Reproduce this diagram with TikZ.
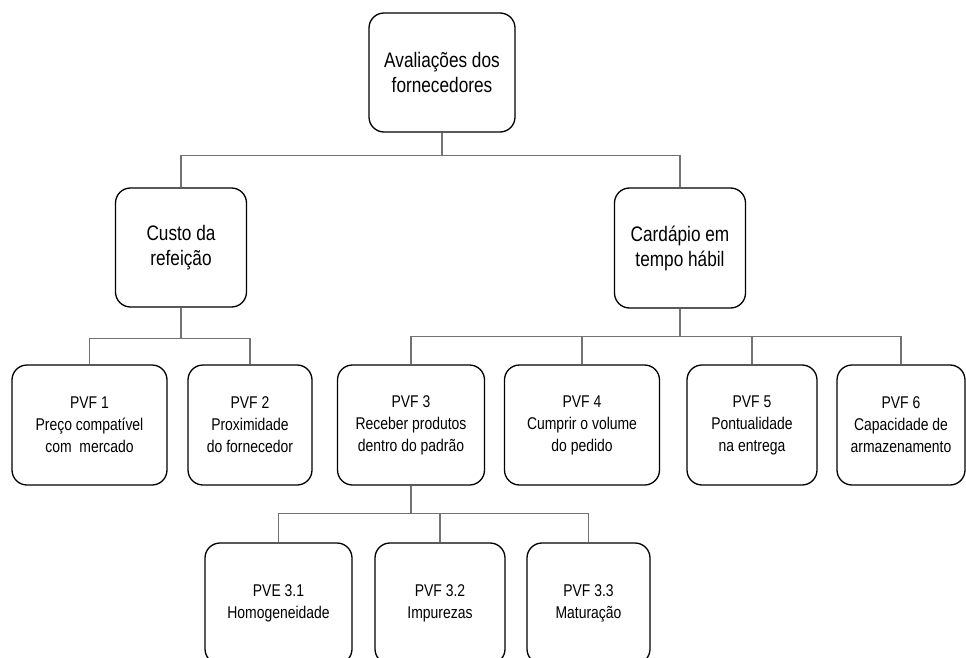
\documentclass[tikz,border=0pt]{standalone}
\usepackage{fontspec}
\setmainfont[FakeStretch=0.82]{Liberation Sans}
\usetikzlibrary{calc}

\begin{document}
\begin{tikzpicture}[x=1pt, y=-1pt,
    box/.style={draw=black, line width=1.3pt, rounded corners=15pt, align=center, inner sep=0pt},
    bigbox/.style={box, font=\fontsize{21}{25}\selectfont},
    smallbox/.style={box, font=\fontsize{17}{22}\selectfont},
    link/.style={draw=black!55, line width=1.1pt}]
    \useasboundingbox (0,0) rectangle (966,658);

    % upper levels
    \node[bigbox, minimum width=146pt, minimum height=119pt] (aval) at (442,72.5) {Avaliações dos\\fornecedores};
    \node[bigbox, minimum width=131pt, minimum height=119pt] (custo) at (181,247.5) {Custo da\\refeição};
    \node[bigbox, minimum width=131pt, minimum height=120pt] (card) at (680,248) {Cardápio em\\tempo hábil};

    % criteria
    \foreach \name/\x/\w/\txt in {p1/89.5/155/{PVF 1\\Preço compatível\\com \ mercado},
                                  p2/250/124/{PVF 2\\Proximidade\\do fornecedor},
                                  p3/411/147/{PVF 3\\Receber produtos\\dentro do padrão},
                                  p4/582/155/{PVF 4\\Cumprir o volume\\do pedido},
                                  p5/752/130/{PVF 5\\Pontualidade\\na entrega},
                                  p6/901/128/{PVF 6\\Capacidade de\\armazenamento}} {
        \node[smallbox, minimum width=\w pt, minimum height=120pt] (\name) at (\x,425) {\txt};
    }

    % sub-criteria of PVF 3
    \foreach \name/\x/\w/\txt in {q1/278.5/147/{PVE 3.1\\Homogeneidade},
                                  q2/440/130/{PVF 3.2\\Impurezas},
                                  q3/588.5/123/{PVF 3.3\\Maturação}} {
        \node[smallbox, minimum width=\w pt, minimum height=121pt] (\name) at (\x,603.5) {\txt};
    }

    % connectors
    \foreach \c in {custo, card}
        \draw[link] (aval.south) -- ++(0,23) -| (\c.north);
    \foreach \c in {p1, p2}
        \draw[link] (custo.south) -- ++(0,30.5) -| (\c.north);
    \foreach \c in {p3, p4, p5, p6}
        \draw[link] (card.south) -- ++(0,28) -| (\c.north);
    \foreach \c in {q1, q2, q3}
        \draw[link] (p3.south) -- ++(0,28) -| (\c.north);
\end{tikzpicture}
\end{document}
